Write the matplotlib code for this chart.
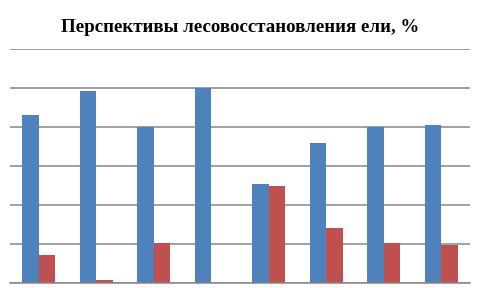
import matplotlib
matplotlib.use("Agg")
import matplotlib.pyplot as plt
import numpy as np

title = "Перспективы лесовосстановления ели, %"
categories = ["1", "2", "3", "4", "5", "6", "7", "8"]
series_blue = [86.3, 98.6, 80, 100, 50.9, 72, 80, 81.2]
series_red = [14.5, 1.7, 20.7, 0, 49.9, 28.4, 20.7, 19.6]
yticks = [0, 20, 40, 60, 80, 100, 120]

fig = plt.figure(figsize=(4.8, 2.88), dpi=100)
ax = fig.add_axes([10/480, 1-283.3/288, 460/480, (283.3-49)/288])

x = np.arange(len(categories))
w = 0.287
ax.bar(x - w/2, series_blue, width=w, color="#4F81BD", zorder=3)
ax.bar(x + w/2, series_red, width=w, color="#C0504D", zorder=3)

ax.set_xlim(-0.5, len(categories) - 0.5)
ax.set_ylim(0, 120)
ax.set_yticks(yticks)
ax.grid(axis="y", color="#868686", linewidth=1.1, zorder=1)
ax.set_xticks([])
ax.tick_params(axis="y", length=0, labelleft=False)
for s in ["top", "right", "left"]:
    ax.spines[s].set_visible(False)
ax.spines["bottom"].set_color("#868686")
ax.spines["bottom"].set_linewidth(1.1)
ax.spines["bottom"].set_zorder(4)

fig.text(0.5, 1-27.5/288, title, ha="center", va="center",
         fontsize=13.6, fontweight="bold", family="Liberation Serif")

fig.savefig("out.png", dpi=100)
